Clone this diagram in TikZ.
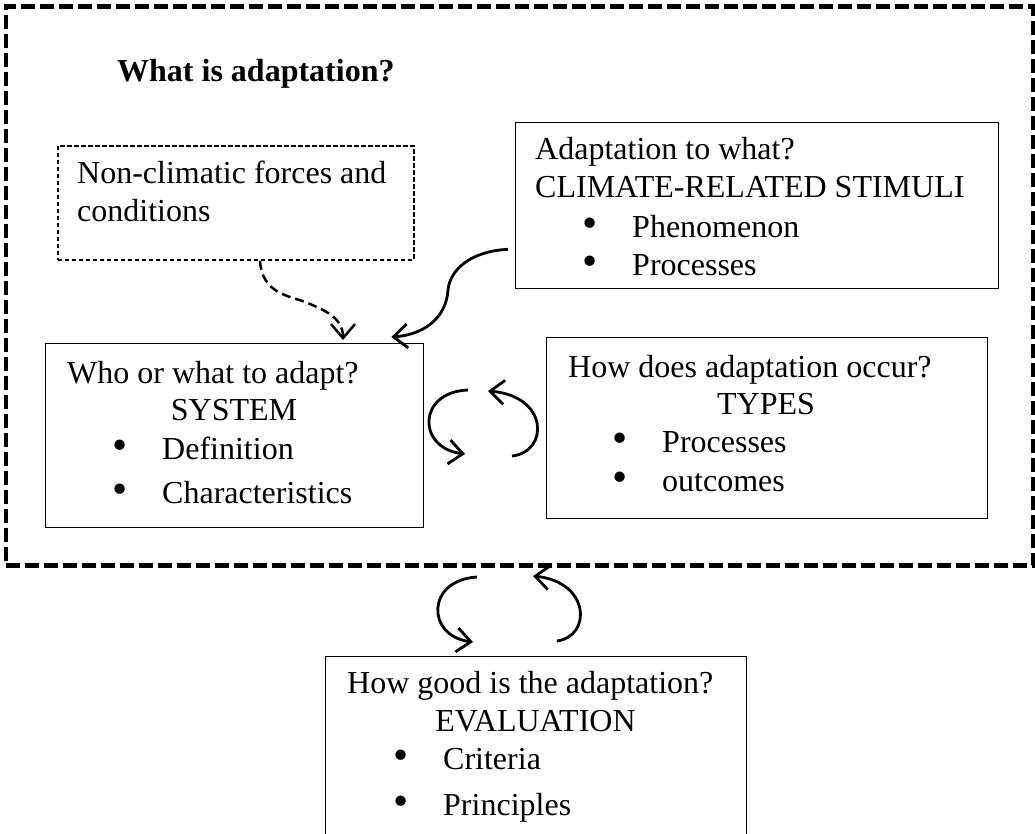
\documentclass[tikz,border=0pt]{standalone}
\usepackage{fontspec}
\usepackage{graphicx}
\setmainfont{Liberation Serif}
\usetikzlibrary{arrows.meta,calc}
% list bullet, a little larger than the text bullet, hanging left of its item
\newcommand{\itemdot}{\llap{\scalebox{1.35}{\textbullet}\hspace{34.5pt}}}
\begin{document}
\begin{tikzpicture}[x=1pt,y=-1pt,
  box/.style={draw, line width=1.3pt, inner sep=0pt, anchor=north west},
  txt/.style={anchor=base west, inner sep=0pt, font=\fontsize{32}{38}\selectfont},
  ctxt/.style={anchor=base, inner sep=0pt, font=\fontsize{32}{38}\selectfont},
  flow/.style={line width=2.8pt, -{Straight Barb[length=14pt,width=24pt]}},
  dflow/.style={line width=2.5pt, dash pattern=on 9pt off 5pt, -{Straight Barb[length=14pt,width=24pt]}}]
\useasboundingbox (0,0) rectangle (1035,834);
\clip (0,0) rectangle (1035,834);

% outer dashed frame
\node[draw, line width=4.5pt, dash pattern=on 14pt off 5pt, inner sep=0pt, anchor=north west,
      minimum width=1027.5pt, minimum height=558.7pt] (outer) at (3.5,4.3) {};
\node[txt, font=\fontsize{32}{38}\selectfont\bfseries] (title) at (117,82) {What is adaptation?};

% non-climatic forces
\node[box, line width=1.8pt, dash pattern=on 4.5pt off 2.5pt, minimum width=356pt, minimum height=114pt] (ncl) at (57,145) {};
\node[txt] (ncl1) at (77,184) {Non-climatic forces and};
\node[txt] (ncl2) at (77,222) {conditions};

% climate-related stimuli
\node[box, minimum width=483pt, minimum height=166pt] (stim) at (515,122) {};
\node[txt] (stim1) at (535,160) {Adaptation to what?};
\node[txt] (stim2) at (535,198) {CLIMATE-RELATED STIMULI};
\node[txt] (stim3) at (632,237) {\itemdot Phenomenon};
\node[txt] (stim4) at (632,276) {\itemdot Processes};

% system
\node[box, minimum width=378pt, minimum height=184pt] (sys) at (45,343) {};
\node[txt] (sys1) at (67,383) {Who or what to adapt?};
\node[ctxt] (sys2) at (234,420) {SYSTEM};
\node[txt] (sys3) at (162,459) {\itemdot Definition};
\node[txt] (sys4) at (162,503) {\itemdot Characteristics};

% types
\node[box, minimum width=441pt, minimum height=181pt] (typ) at (546,337) {};
\node[txt] (typ1) at (568,377) {How does adaptation occur?};
\node[ctxt] (typ2) at (766,414) {TYPES};
\node[txt] (typ3) at (662,452) {\itemdot Processes};
\node[txt] (typ4) at (662,491) {\itemdot outcomes};

% evaluation
\node[box, minimum width=421pt, minimum height=190pt] (eva) at (325,656) {};
\node[txt] (eva1) at (347,693) {How good is the adaptation?};
\node[ctxt] (eva2) at (535.5,731) {EVALUATION};
\node[txt] (eva3) at (443,769) {\itemdot Criteria};
\node[txt] (eva4) at (443,815) {\itemdot Principles};

% connectors into the system box
\coordinate (dstart) at ($(ncl.south west)+(203,0)$);
\coordinate (dend) at ($(sys.north west)+(298,-3)$);
\draw[dflow] (dstart) .. controls ($(dstart)+(2,33)$) and (290,296) .. (305,302)
  .. controls (325,310) and ($(dend)+(0,-22)$) .. (dend);

\coordinate (sstart) at ($(stim.south west)+(-7,-40)$);
\coordinate (send) at ($(sys.north east)+(-33,-6)$);
\draw[flow] (sstart) .. controls ($(sstart)+(-38,2)$) and (450,270) .. (448,290)
  .. controls (446,320) and ($(send)+(30,-2)$) .. (send);

% exchange between system and types
\coordinate (c1a) at (468,390);
\coordinate (c1b) at (465,454);
\coordinate (c2a) at (512,456);
\coordinate (c2b) at (488,391);
\draw[flow] (c1a) .. controls (417,392) and (417,448) .. (c1b);
\draw[flow] (c2a) .. controls (549,452) and (549,396) .. (c2b);

% exchange between the frame and evaluation
\coordinate (e1a) at (477,577);
\coordinate (e1b) at (473,642);
\coordinate (e2a) at (557,641);
\coordinate (e2b) at (533,576);
\draw[flow] (e1a) .. controls (426,580) and (426,636) .. (e1b);
\draw[flow] (e2a) .. controls (592,636) and (590,582) .. (e2b);
\end{tikzpicture}
\end{document}
